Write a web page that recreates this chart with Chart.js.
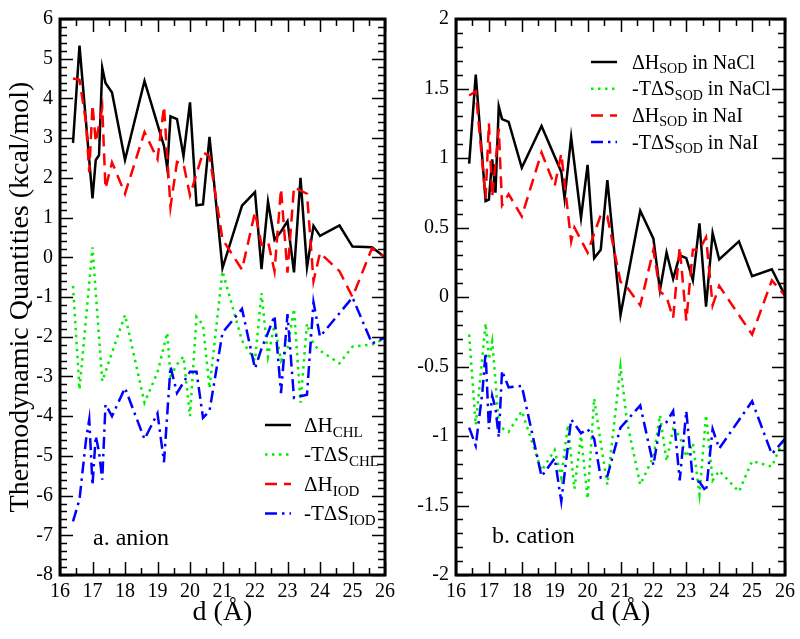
<!DOCTYPE html>
<html>
<head>
<meta charset="utf-8">
<script src="https://cdn.jsdelivr.net/npm/chart.js@4.4.1/dist/chart.umd.min.js"></script>
<style>
  body { margin: 0; background: #fff; width: 800px; height: 639px; position: relative; overflow: hidden; }
  canvas { position: absolute; top: 0; }
  #anion { left: 0; }
  #cation { left: 400px; }
</style>
</head>
<body>
<canvas id="anion" width="400" height="639"></canvas>
<canvas id="cation" width="400" height="639"></canvas>
<script>
// panel a: anion
const anionD = [16.4, 16.6, 16.8, 16.9, 17.0, 17.1, 17.2, 17.3, 17.4, 17.6, 18.0, 18.6, 19.0, 19.2, 19.3, 19.4, 19.6, 19.8, 20.0, 20.2,
                20.4, 20.6, 21.0, 21.6, 22.0, 22.2, 22.4, 22.6, 22.8, 23.0, 23.2, 23.4, 23.6, 23.8, 24.0, 24.6, 25.0, 25.6, 26.0];
const dH_CHL  = [2.88, 5.33, null, null, 1.48, 2.45, 2.57, 4.77, 4.39, 4.15, 2.45, 4.44, null, 2.8, 2.24, 3.55, 3.48, 2.55, 3.9, 1.31,
                 1.33, 3.03, -0.27, 1.3, 1.64, -0.3, 1.4, 0.44, 0.65, 0.91, -0.38, 2.0, -0.25, 0.79, 0.54, 0.8, 0.27, 0.25, 0.0];
const TdS_CHL = [-0.72, -3.33, null, null, 0.25, null, null, -3.12, null, null, -1.45, -3.66, -2.9, null, -1.9, -3.0, -2.7, -2.5, -4.0, -1.5,
                 -1.7, -3.3, -0.35, -2.1, -2.6, -0.9, -2.5, -1.7, -2.6, -2.3, -1.3, -3.66, -1.67, -2.2, -2.35, -2.67, -2.25, -2.2, -2.05];
const dH_IOD  = [4.5, 4.47, 3.4, 2.14, 3.84, 2.9, null, 3.76, 1.73, 2.39, 1.6, 3.15, 2.47, 3.8, null, 1.27, 2.4, 2.35, 1.56, null,
                 2.64, 2.55, 0.45, -0.31, 1.14, 0.32, 0.4, -0.35, 1.73, -0.39, 1.77, 1.68, 1.6, -0.6, 0.11, -0.35, -1.0, 0.23, 0.0];
const TdS_IOD = [-6.65, -6.1, -4.6, -4.08, -5.74, -4.5, -4.9, -5.6, -3.71, -4.0, -3.29, -4.58, -3.93, -5.16, null, -2.75, -3.42, null, -2.88, -2.88,
                 -4.04, -3.87, -1.9, -1.3, -2.8, -2.3, -1.9, -1.47, -3.42, -1.43, -3.54, -3.5, -3.46, -1.13, -2.0, null, -1.01, -2.17, -2.02];

// panel b: cation
const cationD = [16.4, 16.6, 16.8, 16.9, 17.0, 17.1, 17.2, 17.3, 17.4, 17.6, 18.0, 18.6, 19.0, 19.2, 19.3, 19.4, 19.5, 19.6, 19.8, 20.0, 20.2,
                 20.4, 20.6, 21.0, 21.2, 21.6, 22.0, 22.2, 22.4, 22.6, 22.8, 23.0, 23.2, 23.4, 23.6, 23.8, 24.0, 24.6, 25.0, 25.6, 26.0];
const dH_NaCl  = [0.96, 1.6, null, 0.69, 0.70, 0.99, 0.75, 1.37, 1.28, 1.26, 0.93, 1.23, null, 0.9, 0.71, null, 1.15, null, 0.57, 0.95, 0.28,
                  0.34, 0.84, -0.13, null, 0.62, 0.42, 0.05, 0.32, 0.13, 0.30, 0.28, 0.12, 0.53, -0.07, 0.46, 0.27, 0.40, 0.15, 0.20, 0.01];
const TdS_NaCl = [-0.27, -0.92, null, -0.19, -0.45, -0.32, -0.6, -0.93, null, -0.97, -0.82, -1.25, -1.1, -1.3, null, -0.92, null, -1.38, -1.0, -1.45, -0.73,
                  -1.05, -1.35, -0.5, -0.9, -1.35, -1.15, -0.85, -1.18, -0.95, -1.0, -1.15, -1.05, -1.42, -0.85, -1.32, -1.25, -1.4, -1.18, -1.22, -1.0];
const dH_NaI   = [1.45, 1.48, null, 0.71, 1.25, 0.72, null, 1.21, 0.66, 0.74, 0.58, 1.04, 0.8, 1.03, null, null, 0.40, 0.5, null, 0.32, null,
                  0.59, 0.58, 0.11, 0.07, -0.06, 0.34, 0.04, 0.0, -0.15, 0.36, -0.17, 0.34, 0.34, 0.43, -0.06, 0.08, null, -0.27, 0.12, 0.01];
const TdS_NaI  = [-0.94, -1.07, -0.69, -0.40, -0.95, -0.71, -0.8, -1.01, -0.53, -0.65, -0.64, -1.29, -1.16, -1.47, null, null, -0.88, null, -0.98, -0.95, -1.02,
                  -1.3, -1.29, -0.94, null, -0.78, -1.21, -0.93, -0.9, -0.82, -1.32, -0.82, -1.32, -1.33, -1.40, -0.95, -1.09, null, -0.75, -1.13, -1.02];

// legend texts: [main, subscript, tail]
const anionLegend  = [['ΔH', 'CHL', ''], ['-TΔS', 'CHL', ''], ['ΔH', 'IOD', ''], ['-TΔS', 'IOD', '']];
const cationLegend = [['ΔH', 'SOD', ' in NaCl'], ['-TΔS', 'SOD', ' in NaCl'], ['ΔH', 'SOD', ' in NaI'], ['-TΔS', 'SOD', ' in NaI']];

const SERIF = '"Liberation Serif", "DejaVu Serif", serif';

// black solid, green dotted, red dashed, blue dash-dot
const lineStyles = [
    { borderColor: '#000000', borderWidth: 2.5, borderDash: [] },
    { borderColor: '#00ee00', borderWidth: 2.5, borderDash: [2.5, 4.5] },
    { borderColor: '#ff0000', borderWidth: 2.5, borderDash: [12, 7] },
    { borderColor: '#0000ff', borderWidth: 2.5, borderDash: [12, 5, 2.5, 5] }
];

function pts(d, ys) {
    return d.map((x, i) => ({ x: x, y: ys[i] })).filter(p => p.y !== null);
}

function makeSets(d, series) {
    return series.map((ys, i) => Object.assign({
        data: pts(d, ys),
        pointRadius: 0,
        tension: 0,
        fill: false,
        order: series.length - 1 - i
    }, lineStyles[i]));
}

// box around the plot with inward major/minor ticks on all sides
function frameTicks(xMinor, xEvery, yMinor, yEvery) {
    return {
        id: 'frameTicks',
        afterDraw(chart) {
            const { ctx, chartArea: a } = chart;
            const xs = chart.scales.x, ys = chart.scales.y;
            ctx.save();
            ctx.strokeStyle = '#000';
            ctx.lineWidth = 1.5;
            ctx.beginPath();
            const nx = Math.round((xs.max - xs.min) / xMinor);
            for (let i = 0; i <= nx; i++) {
                const px = Math.round(xs.getPixelForValue(xs.min + i * xMinor)) + 0.5;
                const len = i % xEvery === 0 ? 13 : 7;
                ctx.moveTo(px, a.bottom); ctx.lineTo(px, a.bottom - len);
                ctx.moveTo(px, a.top); ctx.lineTo(px, a.top + len);
            }
            const ny = Math.round((ys.max - ys.min) / yMinor);
            for (let i = 0; i <= ny; i++) {
                const py = Math.round(ys.getPixelForValue(ys.min + i * yMinor)) + 0.5;
                const len = i % yEvery === 0 ? 13 : 7;
                ctx.moveTo(a.left, py); ctx.lineTo(a.left + len, py);
                ctx.moveTo(a.right, py); ctx.lineTo(a.right - len, py);
            }
            ctx.stroke();
            ctx.lineWidth = 3;
            ctx.strokeRect(a.left, a.top, a.right - a.left, a.bottom - a.top);
            ctx.restore();
        }
    };
}

// legend with subscripts + panel label
function subLegend(items, o) {
    return {
        id: 'subLegend',
        afterDraw(chart) {
            const ctx = chart.ctx;
            ctx.save();
            ctx.textAlign = 'left';
            ctx.textBaseline = 'alphabetic';
            ctx.fillStyle = '#000';
            items.forEach((it, i) => {
                const ds = chart.data.datasets[i];
                const y = o.y + i * o.dy;
                ctx.strokeStyle = ds.borderColor;
                ctx.lineWidth = ds.borderWidth;
                ctx.setLineDash(ds.borderDash);
                ctx.beginPath();
                ctx.moveTo(o.x0, y);
                ctx.lineTo(o.x1, y);
                ctx.stroke();
                ctx.setLineDash([]);
                const base = y + o.size * 0.33;
                let x = o.tx;
                ctx.font = o.size + 'px ' + SERIF;
                ctx.fillText(it[0], x, base);
                x += ctx.measureText(it[0]).width;
                ctx.font = Math.round(o.size * 0.72) + 'px ' + SERIF;
                ctx.fillText(it[1], x, base + o.size * 0.22);
                x += ctx.measureText(it[1]).width;
                ctx.font = o.size + 'px ' + SERIF;
                ctx.fillText(it[2], x, base);
            });
            ctx.font = o.labelSize + 'px ' + SERIF;
            ctx.fillText(o.label, o.lx, o.ly);
            ctx.restore();
        }
    };
}

function makeChart(id, d, series, yMin, yMax, yStep, yWidth, padRight, yTitle, plugins) {
    const tickFont = { family: SERIF, size: 20 };
    return new Chart(document.getElementById(id), {
        type: 'line',
        data: { datasets: makeSets(d, series) },
        options: {
            responsive: false,
            animation: false,
            devicePixelRatio: 1,
            layout: { padding: { top: 12, right: padRight, left: 0, bottom: 0 } },
            plugins: { legend: { display: false }, tooltip: { enabled: false } },
            scales: {
                x: {
                    type: 'linear', min: 16, max: 26,
                    ticks: { stepSize: 1, font: tickFont, color: '#000', padding: 5, maxRotation: 0 },
                    grid: { display: false, drawTicks: false },
                    border: { display: false },
                    title: { display: true, text: 'd (Å)', color: '#000', font: { family: SERIF, size: 28 }, padding: { top: 0, bottom: 10 } },
                    afterFit: s => { s.height = 64; }
                },
                y: {
                    min: yMin, max: yMax,
                    ticks: { stepSize: yStep, font: tickFont, color: '#000', padding: 7, callback: v => String(v) },
                    grid: { display: false, drawTicks: false },
                    border: { display: false },
                    title: { display: !!yTitle, text: yTitle, color: '#000', font: { family: SERIF, size: 28 }, padding: { top: 4, bottom: 0 } },
                    afterFit: s => { s.width = yWidth; }
                }
            }
        },
        plugins: plugins
    });
}

makeChart('anion', anionD, [dH_CHL, TdS_CHL, dH_IOD, TdS_IOD], -8, 6, 1, 60, 10,
    'Thermodynamic Quantities (kcal/mol)',
    [frameTicks(0.5, 2, 0.2, 5),
     subLegend(anionLegend, { x0: 265, x1: 291, tx: 304, y: 425, dy: 29.5, size: 21, label: 'a. anion', labelSize: 24, lx: 93, ly: 545 })]);

makeChart('cation', cationD, [dH_NaCl, TdS_NaCl, dH_NaI, TdS_NaI], -2, 2, 0.5, 56, 15, '',
    [frameTicks(0.5, 2, 0.1, 5),
     subLegend(cationLegend, { x0: 191, x1: 217, tx: 232, y: 62, dy: 26.7, size: 20, label: 'b. cation', labelSize: 24, lx: 92, ly: 543 })]);
</script>
</body>
</html>
